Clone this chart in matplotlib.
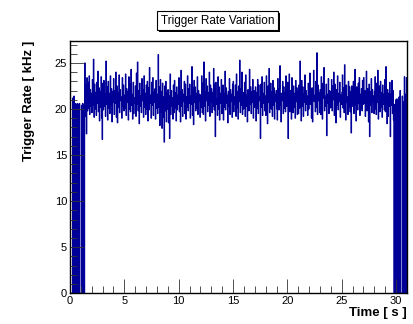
import numpy as np
import matplotlib.pyplot as plt
from matplotlib.patches import Rectangle
from matplotlib.ticker import MultipleLocator

plt.rcParams['font.family'] = ['Liberation Sans', 'DejaVu Sans']

# Trigger rate per 0.05 s bin, kHz (t = 0 .. 31 s), one row per second
t_start = 0.0
bin_width = 0.05
rate = [
    21.3, 0, 0, 0, 0, 21.2, 0, 21.4, 0, 20.6, 0, 20.5, 0, 20.6, 0, 20.5, 0, 20.6, 0, 0,
    0, 20.4, 0, 20.6, 0, 20.5, 0, 25.0, 19.2, 22.6, 17.3, 23.4, 19.8, 22.9, 20.1, 23.6, 19.4, 22.1, 20.3, 21.7,
    19.6, 23.2, 20.4, 25.4, 19.1, 22.7, 20.0, 21.8, 19.3, 22.9, 20.6, 24.1, 19.7, 22.3, 18.7, 21.9, 20.2, 23.5, 19.0, 16.7,
    22.8, 19.9, 23.1, 20.3, 21.6, 19.2, 25.2, 20.5, 22.4, 18.8, 23.0, 20.1, 21.7, 19.5, 23.6, 20.4, 22.2, 18.6, 21.9, 20.7,
    23.3, 19.4, 22.0, 20.6, 24.0, 19.1, 22.5, 18.5, 21.8, 20.2, 23.7, 19.6, 22.1, 20.9, 21.3, 19.0, 23.4, 20.3, 22.6, 19.8,
    21.5, 20.1, 23.8, 19.3, 22.2, 20.7, 21.9, 18.8, 23.5, 20.0, 22.7, 19.7, 24.3, 20.4, 21.6, 18.9, 22.9, 19.5, 21.2, 20.6,
    22.5, 19.2, 23.9, 20.5, 25.1, 19.8, 22.0, 18.4, 22.8, 20.3, 21.4, 19.6, 23.3, 20.9, 22.1, 19.1, 23.6, 20.2, 21.7, 19.4,
    22.6, 20.0, 23.0, 18.7, 22.3, 19.9, 24.5, 20.6, 21.5, 19.0, 22.9, 20.4, 23.4, 19.3, 21.8, 20.7, 22.2, 18.9, 23.1, 20.1,
    21.6, 19.5, 25.9, 20.2, 22.4, 18.2, 23.2, 19.7, 21.9, 17.9, 22.8, 19.1, 21.3, 16.4, 22.5, 19.8, 23.0, 18.6, 21.7, 20.0,
    22.1, 18.5, 21.4, 16.8, 23.8, 19.4, 22.0, 20.3, 21.2, 18.9, 22.6, 19.6, 23.1, 20.1, 21.8, 18.7, 22.4, 19.9, 21.5, 20.5,
    23.4, 19.7, 21.9, 18.6, 24.2, 20.3, 22.1, 19.2, 21.6, 20.8, 23.0, 19.5, 22.7, 18.9, 21.3, 20.2, 23.6, 19.8, 22.2, 20.6,
    22.7, 19.0, 21.4, 20.5, 24.6, 19.3, 22.3, 18.3, 23.1, 20.7, 22.4, 19.8, 21.7, 20.1, 23.5, 19.4, 22.0, 20.9, 21.6, 19.1,
    21.5, 20.2, 23.6, 19.6, 22.8, 19.4, 25.1, 20.3, 21.9, 18.7, 23.3, 20.9, 22.5, 19.7, 21.8, 20.4, 24.0, 19.2, 22.6, 20.8,
    22.2, 19.6, 21.8, 20.3, 24.4, 19.9, 22.7, 17.0, 22.9, 20.5, 21.1, 19.3, 23.5, 20.0, 22.4, 18.8, 21.7, 20.6, 23.2, 19.5,
    20.4, 22.6, 18.8, 21.7, 20.2, 24.1, 19.9, 22.3, 20.6, 21.5, 18.5, 21.9, 20.3, 23.3, 19.4, 22.1, 20.8, 21.6, 19.1, 22.7,
    23.0, 19.7, 21.3, 20.5, 22.6, 19.2, 23.8, 20.1, 21.9, 18.9, 22.5, 20.8, 25.3, 19.6, 22.2, 20.4, 24.0, 19.4, 21.8, 20.0,
    21.6, 22.9, 19.2, 23.7, 20.3, 21.5, 18.6, 22.1, 21.0, 19.8, 24.3, 20.5, 22.4, 19.5, 21.9, 20.7, 23.2, 19.0, 22.0, 20.2,
    20.5, 22.4, 18.7, 21.8, 20.1, 23.2, 19.5, 22.6, 20.9, 21.3, 16.8, 22.7, 20.2, 23.5, 19.3, 21.7, 20.6, 22.9, 19.8, 21.4,
    19.3, 23.6, 21.1, 18.4, 22.5, 20.7, 24.4, 19.6, 21.5, 22.8, 20.0, 21.9, 19.2, 23.1, 20.4, 22.3, 18.9, 21.6, 20.8, 22.0,
    20.0, 18.8, 23.3, 21.4, 19.9, 22.2, 24.7, 20.4, 18.6, 21.7, 20.9, 23.0, 19.5, 22.4, 20.1, 21.8, 19.7, 23.6, 20.3, 21.5,
    22.9, 16.8, 21.2, 23.8, 19.7, 22.0, 20.6, 18.9, 23.4, 21.3, 19.6, 22.5, 20.2, 21.7, 19.0, 23.1, 20.8, 22.3, 19.4, 21.9,
    19.5, 22.6, 20.1, 25.2, 21.8, 18.7, 23.1, 20.3, 22.4, 19.2, 21.6, 20.7, 23.7, 19.8, 22.0, 20.5, 21.4, 19.3, 22.8, 20.0,
    21.6, 23.9, 20.5, 22.2, 19.0, 22.3, 18.6, 21.9, 24.2, 20.8, 21.5, 19.7, 23.0, 20.2, 26.1, 19.4, 22.6, 20.9, 21.8, 19.6,
    22.1, 19.4, 23.5, 20.7, 18.9, 22.8, 21.2, 24.5, 19.8, 21.4, 20.3, 22.7, 17.1, 21.6, 20.6, 23.3, 19.5, 22.0, 20.1, 21.9,
    20.2, 23.2, 19.8, 22.5, 21.0, 24.0, 19.3, 22.7, 20.6, 18.5, 22.1, 20.4, 23.6, 19.9, 21.7, 20.8, 22.9, 19.1, 21.5, 20.5,
    21.8, 23.7, 20.1, 22.3, 19.6, 24.8, 21.1, 18.8, 22.6, 20.7, 21.3, 19.4, 23.0, 20.2, 22.4, 19.7, 21.9, 17.4, 22.5, 20.3,
    20.9, 23.0, 19.5, 21.7, 24.3, 20.4, 18.7, 22.4, 21.2, 19.9, 22.8, 20.6, 23.4, 19.3, 21.6, 20.1, 22.2, 19.8, 23.1, 20.5,
    23.4, 20.6, 22.0, 19.2, 21.5, 24.1, 19.8, 22.2, 20.3, 18.6, 22.7, 17.0, 21.9, 20.4, 23.3, 19.6, 22.1, 20.8, 21.4, 19.5,
    21.9, 23.5, 20.0, 19.4, 22.8, 20.7, 24.2, 18.9, 21.3, 22.5, 19.7, 23.0, 20.2, 21.8, 19.1, 22.6, 20.5, 21.6, 19.9, 23.2,
    19.7, 24.6, 20.8, 18.4, 22.1, 19.2, 21.7, 20.3, 22.9, 17.0, 21.6, 20.4, 23.1, 19.5, 22.0, 18.8, 0, 20.5, 0, 21.0,
    0, 21.1, 0, 20.9, 0, 21.3, 0, 22.0, 0, 0, 0, 21.4, 0, 20.8, 0, 23.5, 0, 21.6, 0, 23.4,
]
edges = t_start + bin_width * np.arange(len(rate) + 1)

fig = plt.figure(figsize=(4.14, 3.24), dpi=100)
ax = fig.add_axes([0.169, 0.095, 0.814, 0.779])

ax.stairs(rate, edges, baseline=0, color='#000099', lw=0.8)

ax.set_xlim(0, 31)
ax.set_ylim(0, 27.4)
ax.xaxis.set_major_locator(MultipleLocator(5))
ax.xaxis.set_minor_locator(MultipleLocator(1))
ax.yaxis.set_major_locator(MultipleLocator(5))
ax.yaxis.set_minor_locator(MultipleLocator(1))
ax.tick_params(which='both', direction='in', labelsize=8, width=0.6, color='#333333')
ax.tick_params(which='major', length=10)
ax.tick_params(which='minor', length=5)
ax.tick_params(axis='x', pad=2)
ax.tick_params(axis='y', pad=2)
for s in ax.spines.values():
    s.set_linewidth(1.0)

ax.set_xlabel('Time [ s ]', fontsize=9.5, fontweight='bold', loc='right', labelpad=1)
ax.set_ylabel('Trigger Rate [ kHz ]', fontsize=9.5, fontweight='bold', loc='top', labelpad=14)

# ROOT-style title box with shadow
fig.patches.append(Rectangle((0.384, 0.901), 0.292, 0.0586, transform=fig.transFigure,
                             facecolor='black', edgecolor='none', figure=fig, zorder=1))
fig.patches.append(Rectangle((0.379, 0.907), 0.292, 0.0586, transform=fig.transFigure,
                             facecolor='white', edgecolor='black', lw=0.8, figure=fig, zorder=2))
fig.text(0.525, 0.936, 'Trigger Rate Variation', ha='center', va='center', fontsize=8.5, zorder=3)

fig.savefig('out.png', dpi=100)
